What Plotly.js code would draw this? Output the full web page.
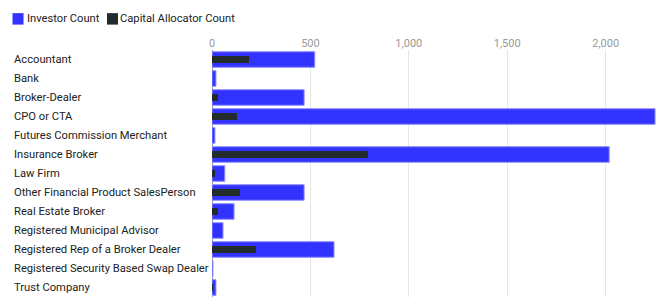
<!DOCTYPE html>
<html><head><meta charset="utf-8">
<script src="https://cdn.plot.ly/plotly-3.0.1.min.js"></script>
<style>html,body{margin:0;padding:0;background:#fff}#chart{width:666px;height:307px}</style>
</head><body><div id="chart"></div>
<script>
const categories = ["Accountant","Bank","Broker-Dealer","CPO or CTA","Futures Commission Merchant","Insurance Broker","Law Firm","Other Financial Product SalesPerson","Real Estate Broker","Registered Municipal Advisor","Registered Rep of a Broker Dealer","Registered Security Based Swap Dealer","Trust Company"];
const investorCount = [522,20,468,2251,15,2018,65,468,112,56,620,5,20];
const capitalAllocatorCount = [187,2,29,129,1,795,17,144,32,2,226,1,7];
const seriesNames = ["Investor Count","Capital Allocator Count"];
const seriesColors = ["#3333ff","#232c2c"];
const tickVals = [0,500,1000,1500,2000];

const FONT = 'Roboto, Arial, sans-serif';
const traces = [
  {type:'bar', orientation:'h', name:seriesNames[0], y:categories, x:investorCount,
   width:0.82, marker:{color:seriesColors[0], line:{color:'#8f8fff', width:1}}},
  {type:'bar', orientation:'h', name:seriesNames[1], y:categories, x:capitalAllocatorCount,
   width:0.33, marker:{color:seriesColors[1], line:{width:0}}}
];
const annotations = categories.map(c => ({
  xref:'paper', yref:'y', x:-0.4484, y:c, xanchor:'left', yanchor:'middle',
  text:c, showarrow:false, font:{family:FONT, size:11.2, color:'#222'}
}));
// legend (drawn as shapes + text)
const legendPos = [{sx0:-0.4473, sx1:-0.4226, tx:-0.4193}, {sx0:-0.2354, sx1:-0.2108, tx:-0.2108}];
const shapes = [];
seriesNames.forEach((n,i) => {
  const p = legendPos[i];
  shapes.push({type:'rect', xref:'paper', yref:'paper', x0:p.sx0, x1:p.sx1, y0:1.1028, y1:1.1492,
    fillcolor:seriesColors[i], line:{width:0}});
  annotations.push({xref:'paper', yref:'paper', x:p.tx, y:1.127, xanchor:'left', yanchor:'middle',
    text:n, showarrow:false, font:{family:FONT, size:11.2, color:'#222'}});
});
const layout = {
  width:666, height:307, margin:{l:212, r:8, t:49.5, b:9.5, autoexpand:false},
  paper_bgcolor:'#fff', plot_bgcolor:'#fff',
  barmode:'overlay', bargap:0,
  showlegend:false,
  xaxis:{side:'top', range:[0,2266], tickvals:tickVals, tickformat:',', showgrid:true, gridcolor:'#e6e6e6',
    zeroline:true, zerolinecolor:'#999', zerolinewidth:1, ticks:'', showline:false, automargin:false,
    tickfont:{family:FONT, size:11, color:'#999'}},
  yaxis:{autorange:'reversed', showticklabels:false, ticks:'', showgrid:false, zeroline:false, showline:false, automargin:false},
  annotations:annotations, shapes:shapes
};
Plotly.newPlot('chart', traces, layout, {displayModeBar:false, staticPlot:true});
</script></body></html>
